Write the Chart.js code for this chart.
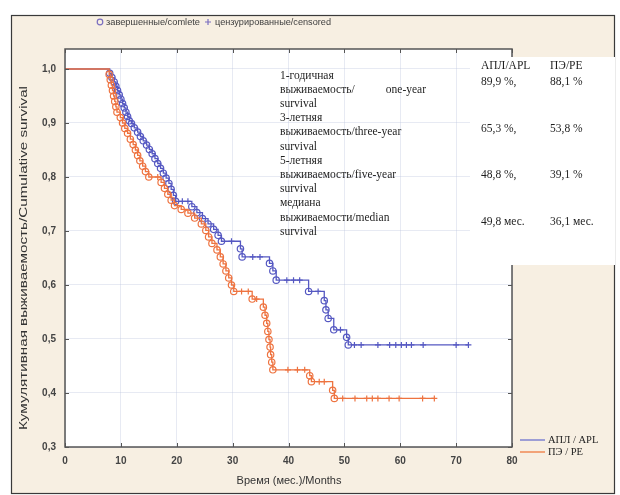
<!DOCTYPE html>
<html>
<head>
<meta charset="utf-8">
<script src="https://cdn.jsdelivr.net/npm/chart.js@4.4.1/dist/chart.umd.min.js"></script>
<style>
  html, body { margin: 0; padding: 0; background: #fff; }
  #wrap { position: relative; width: 620px; height: 495px; }
</style>
</head>
<body>
<div id="wrap"><canvas id="km"></canvas></div>
<script>
// Kaplan-Meier steps. status: -1 start, 0 event (circle), 1 censored (+)
const aplTime = [0, 8.0, 8.4, 8.8, 9.1, 9.4, 9.7, 10.0, 10.3, 10.6, 10.9, 11.2, 11.5, 11.9, 12.4, 13.0, 13.5, 14.0, 14.6, 15.1, 15.6, 16.1, 16.6, 17.1, 17.6, 18.1, 18.6, 19.0, 19.4, 19.8, 21.0, 22.0, 22.7, 23.6, 24.6, 25.6, 26.6, 27.4, 28.0, 29.8, 31.4, 31.7, 33.6, 34.9, 36.6, 37.2, 37.8, 39.7, 40.9, 42.0, 43.6, 45.3, 46.4, 46.7, 47.1, 48.1, 49.3, 50.4, 50.7, 51.8, 53.0, 56.0, 58.1, 59.2, 60.2, 61.1, 62.0, 64.1, 70.0, 72.2];
const aplSurv = [1.0, 0.992, 0.984, 0.976, 0.968, 0.960, 0.952, 0.944, 0.936, 0.928, 0.920, 0.912, 0.904, 0.899, 0.891, 0.883, 0.875, 0.867, 0.859, 0.851, 0.843, 0.834, 0.825, 0.816, 0.807, 0.798, 0.788, 0.777, 0.766, 0.755, 0.755, 0.755, 0.745, 0.734, 0.723, 0.713, 0.703, 0.692, 0.681, 0.681, 0.667, 0.652, 0.652, 0.652, 0.640, 0.626, 0.609, 0.609, 0.609, 0.609, 0.588, 0.588, 0.571, 0.554, 0.538, 0.517, 0.517, 0.503, 0.489, 0.489, 0.489, 0.489, 0.489, 0.489, 0.489, 0.489, 0.489, 0.489, 0.489, 0.489];
const aplStatus = [-1, 0, 0, 0, 0, 0, 0, 0, 0, 0, 0, 0, 0, 0, 0, 0, 0, 0, 0, 0, 0, 0, 0, 0, 0, 0, 0, 0, 0, 0, 1, 1, 0, 0, 0, 0, 0, 0, 0, 1, 0, 0, 1, 1, 0, 0, 0, 1, 1, 1, 0, 1, 0, 0, 0, 0, 1, 0, 0, 1, 1, 1, 1, 1, 1, 1, 1, 1, 1, 1];

const peTime = [0, 7.9, 8.1, 8.3, 8.5, 8.7, 8.9, 9.1, 9.3, 9.9, 10.3, 10.7, 11.2, 11.7, 12.2, 12.6, 13.0, 13.4, 13.9, 14.4, 15.0, 16.6, 17.2, 17.8, 18.4, 19.0, 19.6, 20.8, 22.0, 23.2, 24.4, 25.2, 25.7, 26.3, 27.2, 27.8, 28.3, 28.8, 29.3, 29.8, 30.2, 31.6, 32.8, 33.5, 34.3, 35.5, 35.8, 36.1, 36.3, 36.5, 36.7, 36.8, 37.0, 37.2, 39.9, 41.6, 42.9, 43.8, 44.1, 45.5, 46.4, 47.9, 48.2, 49.7, 51.9, 54.0, 55.0, 56.0, 58.0, 59.8, 64.0, 66.1];
const peSurv = [1.0, 0.990, 0.980, 0.970, 0.960, 0.950, 0.940, 0.930, 0.920, 0.910, 0.900, 0.890, 0.881, 0.870, 0.860, 0.850, 0.840, 0.830, 0.820, 0.810, 0.800, 0.800, 0.790, 0.779, 0.768, 0.757, 0.747, 0.740, 0.733, 0.724, 0.713, 0.701, 0.689, 0.677, 0.665, 0.652, 0.639, 0.626, 0.613, 0.600, 0.588, 0.588, 0.588, 0.574, 0.574, 0.559, 0.544, 0.529, 0.514, 0.499, 0.485, 0.471, 0.457, 0.443, 0.443, 0.443, 0.443, 0.432, 0.421, 0.421, 0.421, 0.405, 0.390, 0.390, 0.390, 0.390, 0.390, 0.390, 0.390, 0.390, 0.390, 0.390];
const peStatus = [-1, 0, 0, 0, 0, 0, 0, 0, 0, 0, 0, 0, 0, 0, 0, 0, 0, 0, 0, 0, 0, 1, 0, 0, 0, 0, 0, 0, 0, 0, 0, 0, 0, 0, 0, 0, 0, 0, 0, 0, 0, 1, 1, 0, 1, 0, 0, 0, 0, 0, 0, 0, 0, 0, 1, 1, 1, 0, 0, 1, 1, 0, 0, 1, 1, 1, 1, 1, 1, 1, 1, 1];

const groupNames = ['АПЛ / APL', 'ПЭ / PE'];
const tableHead = ['АПЛ/APL', 'ПЭ/PE'];
const tableRows = [
  { label: ['1-годичная', 'выживаемость/      one-year', 'survival'], apl: '89,9 %,', pe: '88,1 %' },
  { label: ['3-летняя', 'выживаемость/three-year', 'survival'], apl: '65,3 %,', pe: '53,8 %' },
  { label: ['5-летняя', 'выживаемость/five-year', 'survival'], apl: '48,8 %,', pe: '39,1 %' },
  { label: ['медиана', 'выживаемости/median', 'survival'], apl: '49,8 мес.', pe: '36,1 мес.' }
];

const BLUE = '#5558c2';
const ORANGE = '#ee7340';

function toPoints(times, surv) {
  return times.map((t, i) => ({ x: t, y: surv[i] }));
}

function kmDataset(label, times, surv, status, color, order) {
  return {
    label,
    data: toPoints(times, surv),
    stepped: true,
    borderColor: color,
    borderWidth: 1.3,
    backgroundColor: 'rgba(0,0,0,0)',
    pointBorderColor: color,
    pointBackgroundColor: 'rgba(255,255,255,0)',
    pointBorderWidth: 1.2,
    pointStyle: status.map(s => (s === 1 ? 'cross' : 'circle')),
    pointRadius: status.map(s => (s < 0 ? 0 : s === 1 ? 3 : 3.2)),
    order
  };
}

// draw text squeezed/stretched to a given width
function fitText(ctx, text, x, y, width) {
  const w = ctx.measureText(text).width;
  ctx.save();
  ctx.translate(x, y);
  ctx.scale(width / w, 1);
  ctx.fillText(text, 0, 0);
  ctx.restore();
}

const frame = {
  id: 'frame',
  beforeDraw(chart) {
    const ctx = chart.ctx;
    const a = chart.chartArea;
    ctx.save();
    ctx.fillStyle = '#fff';
    ctx.fillRect(0, 0, chart.width, chart.height);
    ctx.fillStyle = '#f7efe2';
    ctx.fillRect(11, 15, 604, 479);
    ctx.strokeStyle = '#3a3a3a';
    ctx.lineWidth = 1.2;
    ctx.strokeRect(11.5, 15.5, 603, 478);
    ctx.fillStyle = '#fff';
    ctx.fillRect(a.left, a.top, a.right - a.left, a.bottom - a.top);
    ctx.restore();
  },
  afterDraw(chart) {
    const ctx = chart.ctx;
    const a = chart.chartArea;
    const xs = chart.scales.x;
    const ys = chart.scales.y;
    ctx.save();
    // frame of plot area
    ctx.strokeStyle = '#555';
    ctx.lineWidth = 1.5;
    ctx.strokeRect(a.left, a.top, a.right - a.left, a.bottom - a.top);
    // inward ticks
    ctx.lineWidth = 1;
    ctx.beginPath();
    xs.ticks.forEach(t => {
      const px = Math.round(xs.getPixelForValue(t.value)) + 0.5;
      ctx.moveTo(px, a.bottom); ctx.lineTo(px, a.bottom - 4);
      ctx.moveTo(px, a.top); ctx.lineTo(px, a.top + 4);
    });
    ys.ticks.forEach(t => {
      const py = Math.round(ys.getPixelForValue(t.value)) + 0.5;
      ctx.moveTo(a.left, py); ctx.lineTo(a.left + 4, py);
      ctx.moveTo(a.right, py); ctx.lineTo(a.right - 4, py);
    });
    ctx.stroke();

    // white text box with the survival table
    ctx.fillStyle = '#fff';
    ctx.fillRect(470, 57, 145, 208);
    ctx.fillStyle = '#1e1e1e';
    ctx.font = '11.5px "Liberation Serif", "Times New Roman", serif';
    ctx.textBaseline = 'middle';
    ctx.textAlign = 'left';
    ctx.fillText(tableHead[0], 481, 66);
    ctx.fillText(tableHead[1], 550, 66);
    tableRows.forEach((r, i) => {
      const y0 = 75.5 + i * 42.6;
      r.label.forEach((s, j) => {
        if (j === 1 && s.indexOf('      ') > 0) {
          const parts = s.split(/\s+/);
          ctx.fillText(parts[0], 280, y0 + j * 14.2);
          ctx.textAlign = 'right';
          ctx.fillText(parts[1], 426, y0 + j * 14.2);
          ctx.textAlign = 'left';
        } else {
          ctx.fillText(s, 280, y0 + j * 14.2);
        }
      });
      const vy = 82 + i * 46.5;
      ctx.fillText(r.apl, 481, vy);
      ctx.fillText(r.pe, 550, vy);
    });

    // top legend for markers
    ctx.font = '9.5px "Liberation Sans", Arial, sans-serif';
    ctx.fillStyle = '#3e3e3e';
    ctx.strokeStyle = '#7b6fc0';
    ctx.lineWidth = 1.2;
    ctx.beginPath();
    ctx.arc(100, 22, 2.8, 0, Math.PI * 2);
    ctx.stroke();
    fitText(ctx, 'завершенные/comlete', 106, 22, 94);
    ctx.beginPath();
    ctx.moveTo(205, 22); ctx.lineTo(211, 22);
    ctx.moveTo(208, 19); ctx.lineTo(208, 25);
    ctx.stroke();
    fitText(ctx, 'цензурированные/censored', 215, 22, 116);

    // group legend bottom right
    ctx.font = '10.5px "Liberation Serif", "Times New Roman", serif';
    [BLUE, ORANGE].forEach((c, i) => {
      const y = 440 + i * 12;
      ctx.strokeStyle = i === 0 ? '#7f83d0' : '#f08a55';
      ctx.lineWidth = 1.5;
      ctx.beginPath();
      ctx.moveTo(520, y); ctx.lineTo(545, y);
      ctx.stroke();
      ctx.fillStyle = '#222';
      ctx.fillText(groupNames[i], 548, y);
    });

    // axis titles
    ctx.fillStyle = '#333';
    ctx.font = '11px "Liberation Sans", Arial, sans-serif';
    ctx.textAlign = 'center';
    ctx.fillText('Время (мес.)/Months', 289, 481);
    ctx.save();
    ctx.translate(24, 258);
    ctx.rotate(-Math.PI / 2);
    ctx.font = '11.5px "Liberation Sans", Arial, sans-serif';
    ctx.textAlign = 'left';
    fitText(ctx, 'Кумулятивная выживаемость/Cumulative survival', -172, 0, 344);
    ctx.restore();
    ctx.restore();
  }
};

new Chart(document.getElementById('km'), {
  type: 'line',
  data: {
    datasets: [
      kmDataset(groupNames[0], aplTime, aplSurv, aplStatus, BLUE, 1),
      kmDataset(groupNames[1], peTime, peSurv, peStatus, ORANGE, 0)
    ]
  },
  options: {
    responsive: true,
    maintainAspectRatio: false,
    animation: false,
    layout: { padding: { top: 49, right: 108, left: 0, bottom: 0 } },
    plugins: { legend: { display: false }, tooltip: { enabled: false } },
    scales: {
      x: {
        type: 'linear',
        min: 0,
        max: 80,
        afterFit: s => { s.height = 48; },
        ticks: {
          stepSize: 10,
          padding: 8,
          color: '#444',
          font: { family: '"Liberation Sans", Arial, sans-serif', size: 10, weight: 'bold' }
        },
        grid: { color: 'rgba(185,195,220,0.35)', drawTicks: false },
        border: { display: false }
      },
      y: {
        type: 'linear',
        min: 0.3,
        max: 1.037,
        afterFit: s => { s.width = 65; },
        ticks: {
          stepSize: 0.1,
          includeBounds: false,
          padding: 9,
          color: '#444',
          font: { family: '"Liberation Sans", Arial, sans-serif', size: 10, weight: 'bold' },
          callback: v => v.toFixed(1).replace('.', ',')
        },
        grid: { color: 'rgba(185,195,220,0.35)', drawTicks: false },
        border: { display: false }
      }
    }
  },
  plugins: [frame]
});
</script>
</body>
</html>
